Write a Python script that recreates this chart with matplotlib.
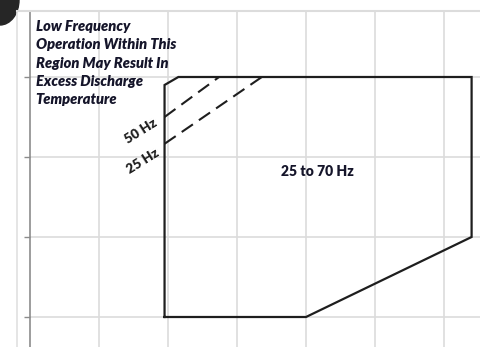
import matplotlib.pyplot as plt
from matplotlib.patches import Ellipse
from matplotlib.lines import Line2D

# operating envelope outline (evap temp, cond temp)
env_x = [-10.5, 10, 34, 34, -8.5, -10.5, -10.5]
env_y = [80, 80, 100, 140, 140, 138, 80]

# low frequency limit lines
hz50_x = [-10.5, -2.6]
hz50_y = [130, 140]
hz25_x = [-10.5, 3.6]
hz25_y = [123.3, 140]

x_grid = [-20, -10, 0, 10, 20, 30]
y_ticks = [80, 100, 120, 140]

note = "Low Frequency\nOperation Within This\nRegion May Result In\nExcess Discharge\nTemperature"

plt.rcParams['font.family'] = ['Lato', 'DejaVu Sans']

fig = plt.figure(figsize=(4.81, 3.47), dpi=100)
ax = fig.add_axes([30/481, 0, 451/481, 336/347])

ax.set_xlim(-30, -30 + 451/6.9)
ax.set_ylim(72.5, 156.5)

for gx in x_grid:
    ax.axvline(gx, color='#dcdcdc', lw=1.2, zorder=0)
for gy in y_ticks:
    ax.axhline(gy, color='#dcdcdc', lw=1.2, zorder=0)

ax.plot(env_x, env_y, color='#1e1e1e', lw=1.6, solid_joinstyle='miter')
ax.plot(hz50_x, hz50_y, color='#1e1e1e', lw=1.5, dashes=(6.5, 3.5))
ax.plot(hz25_x, hz25_y, color='#1e1e1e', lw=1.5, dashes=(6.5, 3.5))

ax.set_xticks([])
ax.set_yticks(y_ticks)
ax.set_yticklabels([])
ax.tick_params(axis='y', length=4, width=1, color='#8c8c8c')
for s in ['top', 'right', 'bottom']:
    ax.spines[s].set_visible(False)
ax.spines['left'].set_color('#8c8c8c')
ax.spines['left'].set_linewidth(1.2)

ax.text(-29.2, 154.2, note, ha='left', va='top', fontsize=10.5, fontweight='heavy',
        fontstyle='italic', color='#15152a', linespacing=1.48)
ax.text(-13.9, 126.4, "50 Hz", rotation=32, ha='center', va='center',
        fontsize=9.6, fontweight='heavy', color='#1e1e1e')
ax.text(-13.6, 119.0, "25 Hz", rotation=32, ha='center', va='center',
        fontsize=9.6, fontweight='heavy', color='#1e1e1e')
ax.text(11.6, 116.5, "25 to 70 Hz", ha='center', va='center',
        fontsize=10, fontweight='heavy', color='#15152a')

# chart frame edges and cropped dark blob
fig.add_artist(Line2D([17/481, 17/481], [0, 336/347], color='#e0e0e0', lw=1.2,
                      transform=fig.transFigure))
fig.add_artist(Line2D([17/481, 1], [336/347, 336/347], color='#dcdcdc', lw=1.5,
                      transform=fig.transFigure))
fig.add_artist(Ellipse((0, 1), 38/481, 50/347, color='#262626',
                       transform=fig.transFigure))

fig.savefig('out.png', dpi=100)
